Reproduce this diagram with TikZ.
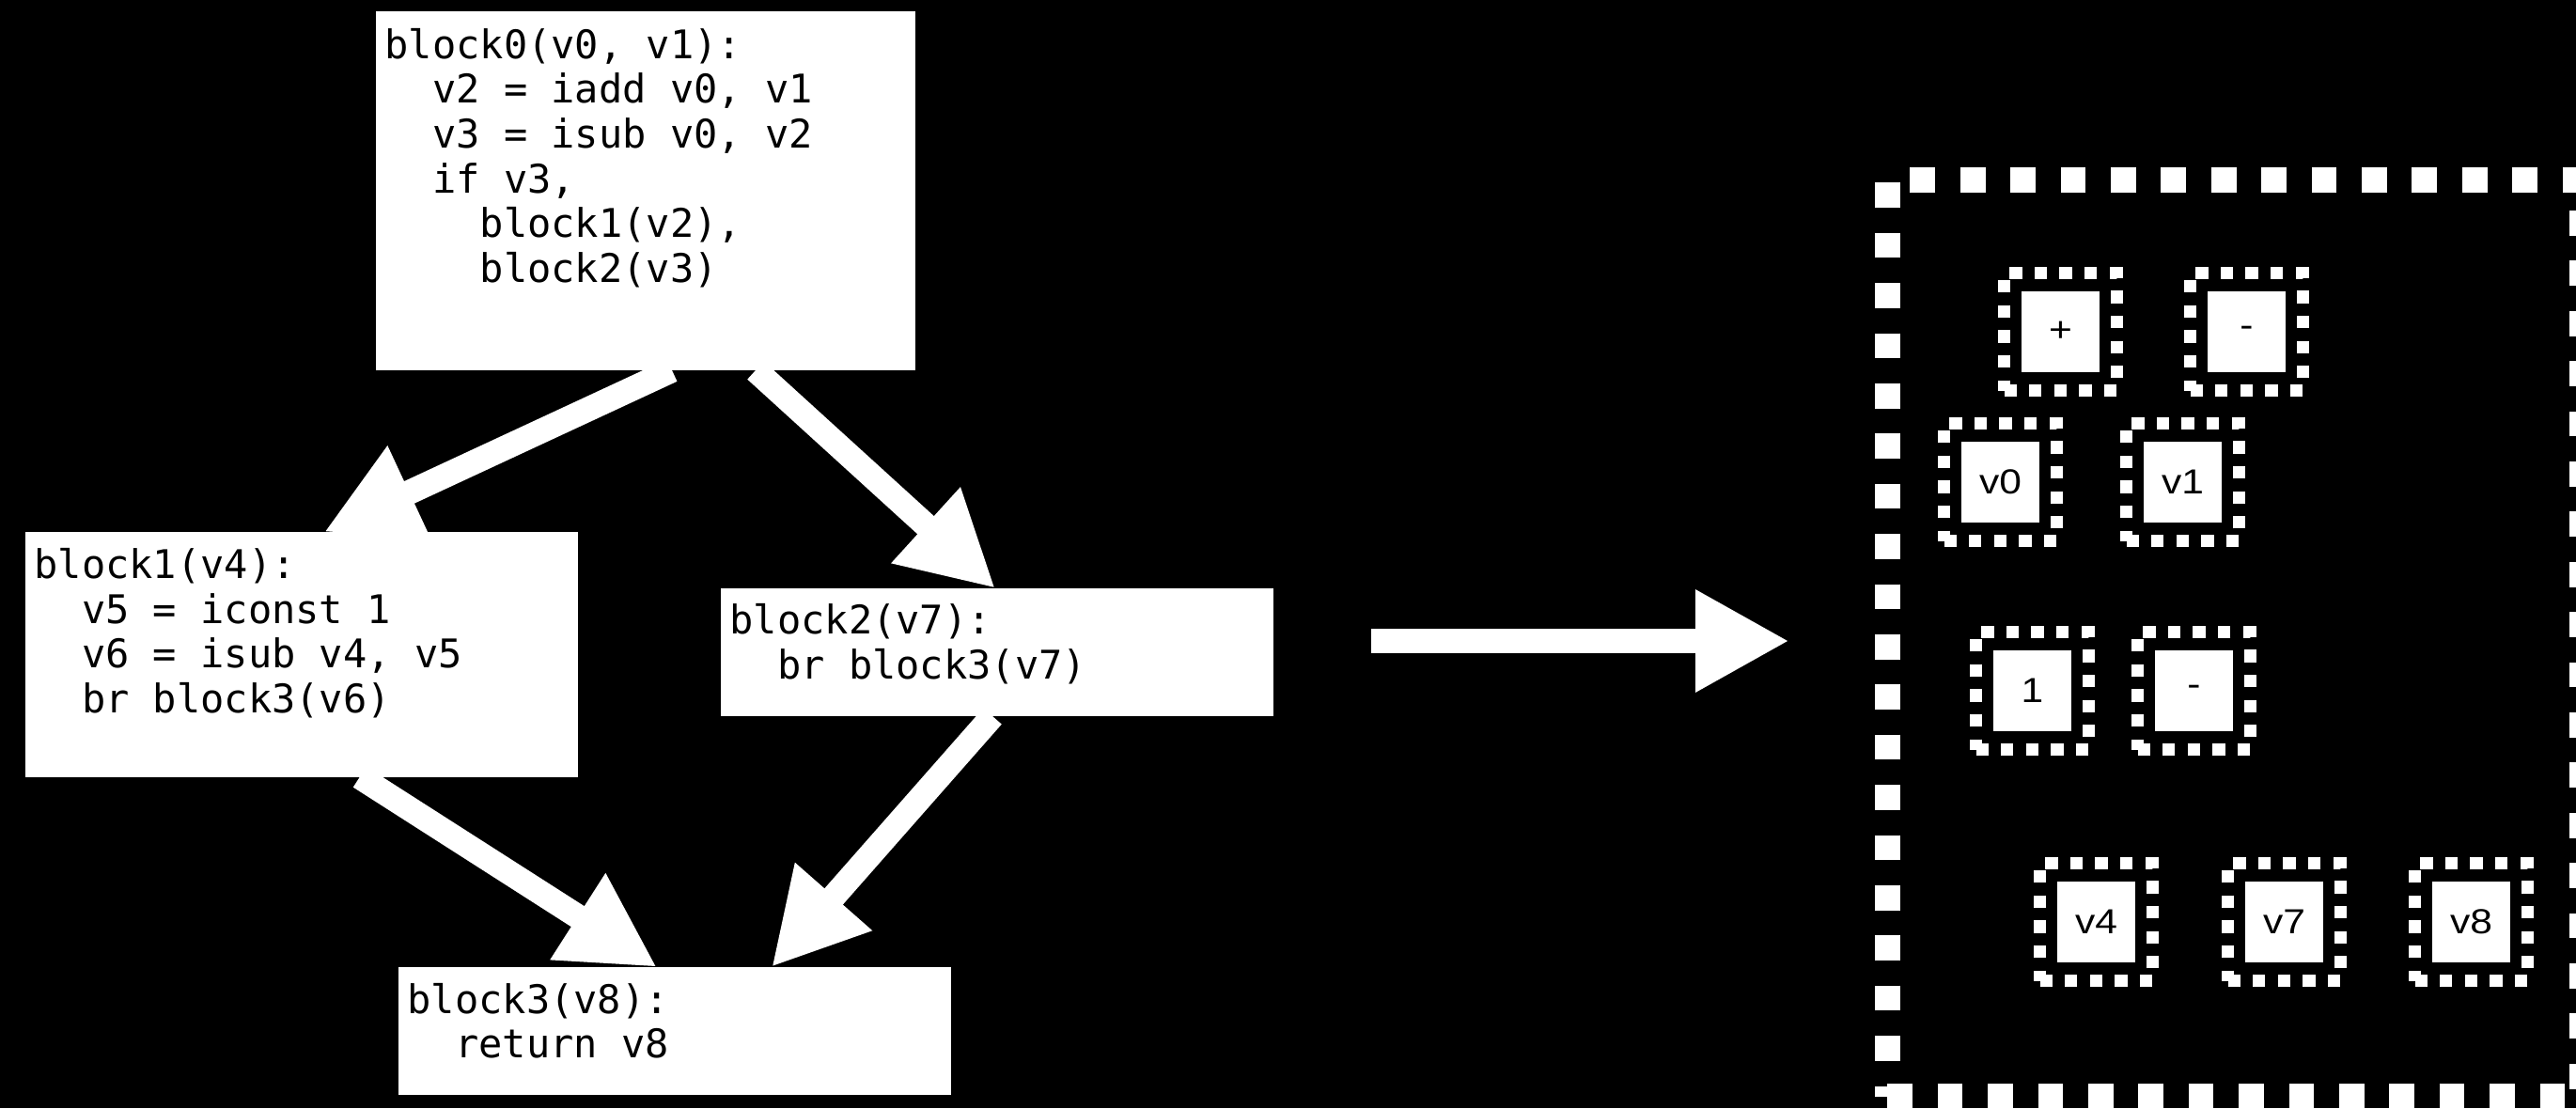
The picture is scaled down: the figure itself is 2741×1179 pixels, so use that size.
\documentclass[tikz,border=0pt]{standalone}
\usepackage{fontspec}
\setmainfont{Liberation Sans}
\newfontfamily\codefont{DejaVu Sans Mono}
\newfontfamily\valfont[FakeStretch=1.15]{Liberation Sans}
\usetikzlibrary{arrows.meta,calc,fit}
\begin{document}
\frenchspacing
\begin{tikzpicture}[x=1pt,y=-1pt,
  codebox/.style={fill=white, inner sep=0pt, outer sep=0pt, anchor=north west},
  codetext/.style={inner sep=0pt, anchor=base west, text=black,
    font=\codefont\fontsize{42}{47.7}\selectfont},
  edge/.style={draw=white, line width=26pt, -{Triangle[length=100pt,width=102pt]}},
  valnode/.style={fill=white, text=black, minimum width=83.3pt, minimum height=86pt,
    inner sep=0pt, outer sep=0pt, font=\valfont\fontsize{37}{44}\selectfont},
  valborder/.style={draw=white, line width=13.3pt, dash pattern=on 13.3pt off 13.3pt,
    inner xsep=18.3pt, inner ysep=19.5pt},
  cluster/.style={draw=white, line width=26.7pt, dash pattern=on 26.7pt off 26.7pt,
    inner sep=0pt, outer sep=0pt, anchor=north west}
]
\fill[black] (0,0) rectangle (2741,1179);
\useasboundingbox (0,0) rectangle (2741,1179);

% code blocks
\node[codebox, minimum width=573.5pt, minimum height=382pt] (b0) at (400,12) {};
\node[codebox, minimum width=588.4pt, minimum height=260.7pt] (b1) at (26.8,566) {};
\node[codebox, minimum width=588.4pt, minimum height=136pt] (b2) at (767,626) {};
\node[codebox, minimum width=587.6pt, minimum height=135.7pt] (b3) at (424,1029) {};

\node[codetext] (b0t) at ($(b0.north west)+(9.5,50)$) {\parbox[t]{560pt}{\raggedright
block0(v0, v1):\\\hphantom{xx}v2 = iadd v0, v1\\\hphantom{xx}v3 = isub v0, v2\\\hphantom{xx}if v3,\\\hphantom{xxxx}block1(v2),\\\hphantom{xxxx}block2(v3)}};
\node[codetext] (b1t) at ($(b1.north west)+(9.5,49.5)$) {\parbox[t]{570pt}{\raggedright
block1(v4):\\\hphantom{xx}v5 = iconst 1\\\hphantom{xx}v6 = isub v4, v5\\\hphantom{xx}br block3(v6)}};
\node[codetext] (b2t) at ($(b2.north west)+(9.5,48.8)$) {\parbox[t]{570pt}{\raggedright
block2(v7):\\\hphantom{xx}br block3(v7)}};
\node[codetext] (b3t) at ($(b3.north west)+(9.5,49)$) {\parbox[t]{570pt}{\raggedright
block3(v8):\\\hphantom{xx}return v8}};

% control-flow edges
\draw[edge] ($(b0.south west)+(315,0)$) -- ($(b1.north west)+(318,0)$);
\draw[edge] ($(b0.south west)+(404,0)$) -- ($(b2.north west)+(292,0)$);
\draw[edge] ($(b1.south west)+(356,0)$) -- ($(b3.north west)+(275,0)$);
\draw[edge] ($(b2.south west)+(289,0)$) -- ($(b3.north west)+(397,0)$);

% transformation arrow
\coordinate (arrS) at (1459,682);
\coordinate (arrE) at (1904,682);
\draw[edge] (arrS) -- (arrE);

% cluster
\node[cluster, minimum width=739.4pt, minimum height=975pt] (cl) at (2008.3,191.7) {};

% value nodes
\node[valnode] (plus) at (2192.5,353) {+};
\node[valnode] (minusA) at (2390.5,353) {-};
\node[valnode] (v0) at (2128.5,513) {v0};
\node[valnode] (v1) at (2322.5,513) {v1};
\node[valnode] (one) at (2162.5,735) {1};
\node[valnode] (minusB) at (2334.5,735) {-};
\node[valnode] (v4) at (2230.5,981) {v4};
\node[valnode] (v7) at (2430.5,981) {v7};
\node[valnode] (v8) at (2629.5,981) {v8};

\foreach \n in {plus,minusA,v0,v1,one,minusB,v4,v7,v8}{
  \node[valborder, fit=(\n)] (\n b) {};
}
\end{tikzpicture}
\end{document}
